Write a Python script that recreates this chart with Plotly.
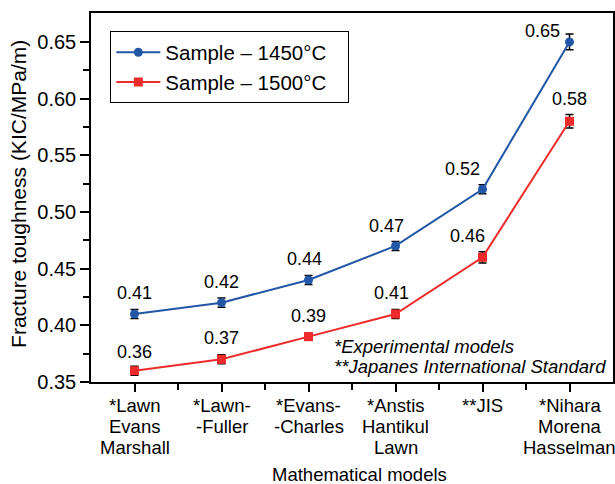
import plotly.graph_objects as go

categories = ["*Lawn<br>Evans<br>Marshall", "*Lawn-<br>-Fuller", "*Evans-<br>-Charles",
              "*Anstis<br>Hantikul<br>Lawn", "**JIS", "*Nihara<br>Morena<br>Hasselman"]
series_names = ["Sample \u2013 1450\u00b0C", "Sample \u2013 1500\u00b0C"]
blue_vals = [0.41, 0.42, 0.44, 0.47, 0.52, 0.65]
blue_err = [0.004, 0.004, 0.004, 0.004, 0.004, 0.007]
red_vals = [0.36, 0.37, 0.39, 0.41, 0.46, 0.58]
red_err = [0.004, 0.004, 0.003, 0.004, 0.005, 0.006]
blue_labels = ["0.41", "0.42", "0.44", "0.47", "0.52", "0.65"]
red_labels = ["0.36", "0.37", "0.39", "0.41", "0.46", "0.58"]
blue_xshift = [0, 0, -4, -9, -20, -27]
blue_yshift = [21, 21, 21, 20, 20, 11]
red_xshift = [0, 0, 0, -4, -15, 0]
red_yshift = [19, 21, 21, 21, 21, 22]
y_ticks = [0.35, 0.40, 0.45, 0.50, 0.55, 0.60, 0.65]

FONT = "Liberation Sans, Arial, sans-serif"
BLUE = "#2256a6"
RED = "#ee2b2b"
PAD = "\u00a0\u00a0\u00a0"  # right padding inside the legend box
x = list(range(len(categories)))

fig = go.Figure()
fig.add_trace(go.Scatter(
    x=x, y=blue_vals, mode="lines+markers", name=series_names[0] + PAD,
    line=dict(color=BLUE, width=2), marker=dict(symbol="circle", size=9, color=BLUE),
    error_y=dict(type="data", array=blue_err, visible=True, color="black", thickness=1.5, width=4)))
fig.add_trace(go.Scatter(
    x=x, y=red_vals, mode="lines+markers", name=series_names[1] + PAD,
    line=dict(color=RED, width=2), marker=dict(symbol="square", size=9, color=RED),
    error_y=dict(type="data", array=red_err, visible=True, color="black", thickness=1.5, width=4)))

for i in x:
    fig.add_annotation(x=i, y=blue_vals[i], text=blue_labels[i], showarrow=False,
                       yshift=blue_yshift[i], xshift=blue_xshift[i],
                       font=dict(size=18, color="black", family=FONT))
    fig.add_annotation(x=i, y=red_vals[i], text=red_labels[i], showarrow=False,
                       yshift=red_yshift[i], xshift=red_xshift[i],
                       font=dict(size=18, color="black", family=FONT))
    # category tick labels, one annotation per line for tight line spacing
    for k, line in enumerate(categories[i].split("<br>")):
        fig.add_annotation(x=i, y=0, xref="x", yref="paper", text=line, showarrow=False,
                           xanchor="center", yanchor="middle", yshift=-(23.5 + 20.8 * k),
                           font=dict(size=18.5, color="black", family=FONT))

fig.add_annotation(x=0.4614, y=0.095, xref="paper", yref="paper", xanchor="left", yanchor="middle",
                   text="<i>*Experimental models</i>", showarrow=False,
                   font=dict(size=18.5, color="black", family=FONT))
fig.add_annotation(x=0.4614, y=0.0407, xref="paper", yref="paper", xanchor="left", yanchor="middle",
                   text="<i>**Japanes International Standard</i>", showarrow=False,
                   font=dict(size=18.5, color="black", family=FONT))
# axis titles
fig.add_annotation(x=0.515, y=-0.2505, xref="paper", yref="paper", xanchor="center", yanchor="middle",
                   text="Mathematical models", showarrow=False,
                   font=dict(size=18.5, color="black", family=FONT))
fig.add_annotation(x=-0.139, y=0.511, xref="paper", yref="paper", xanchor="center", yanchor="middle",
                   text="Fracture toughness (KIC/MPa/m)", showarrow=False, textangle=-90,
                   font=dict(size=21, color="black", family=FONT))

fig.update_layout(
    width=615, height=484,
    margin=dict(l=91, r=2, t=13, b=102, autoexpand=False),
    paper_bgcolor="white", plot_bgcolor="white",
    font=dict(family=FONT, color="black"),
    showlegend=True,
    legend=dict(x=0.037, y=0.95, xanchor="left", yanchor="top",
                bordercolor="black", borderwidth=1, bgcolor="white", itemwidth=44,
                font=dict(size=20.5, family=FONT), tracegroupgap=0),
)
fig.update_xaxes(
    range=[-0.5, 5.5], tickmode="array", tickvals=x, showticklabels=False, automargin=False,
    showgrid=False, zeroline=False, showline=True, linecolor="black", linewidth=1.5, mirror=True,
    ticks="outside", ticklen=8, tickwidth=1.5, tickcolor="black",
    minor=dict(tickmode="array", tickvals=[0.5, 1.5, 2.5, 3.5, 4.5], ticks="outside", ticklen=6,
               tickwidth=1.5, tickcolor="black", showgrid=False),
)
fig.update_yaxes(
    range=[0.35, 0.6755], tickmode="array", tickvals=y_ticks,
    ticktext=["%.2f" % v for v in y_ticks], automargin=False,
    showgrid=False, zeroline=False, showline=True, linecolor="black", linewidth=1.5, mirror=True,
    ticks="outside", ticklen=9, tickwidth=1.5, tickcolor="black",
    tickfont=dict(size=20, family=FONT),
    minor=dict(tickmode="array", tickvals=[0.375, 0.425, 0.475, 0.525, 0.575, 0.625], ticks="outside",
               ticklen=6, tickwidth=1.5, tickcolor="black", showgrid=False),
)

fig.write_html("out.html", config={"displayModeBar": False},
               post_script="document.body.style.margin='0px';document.body.style.overflow='hidden';")
